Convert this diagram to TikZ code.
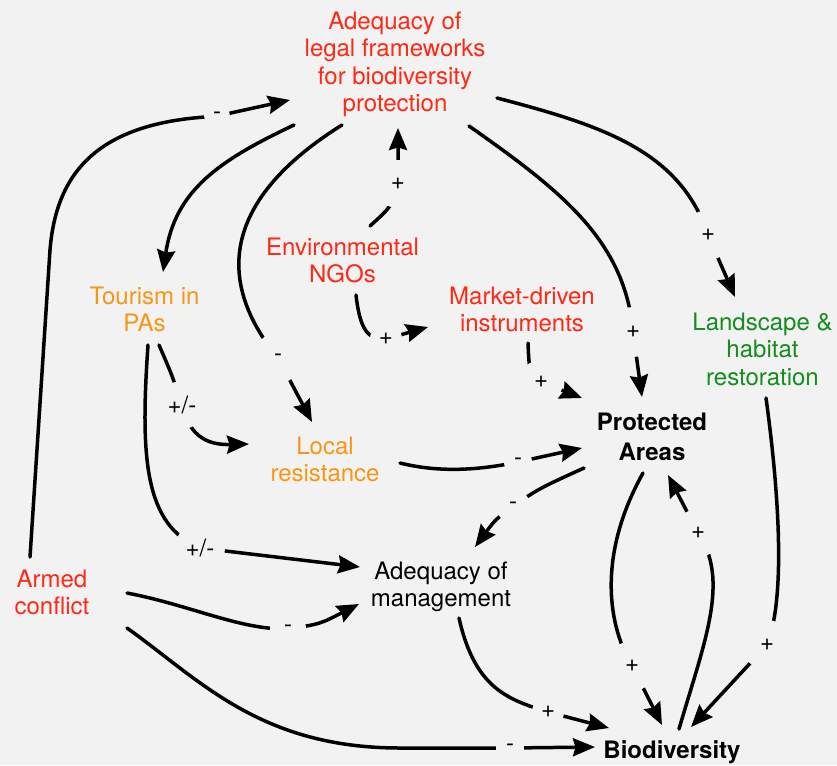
\documentclass[tikz,border=0pt]{standalone}
\usepackage{fontspec}
\setmainfont{TeX Gyre Heros}
\usetikzlibrary{arrows.meta,calc}
\definecolor{bg}{RGB}{242,242,242}
\definecolor{cred}{RGB}{255,40,20}
\definecolor{corange}{RGB}{248,150,20}
\definecolor{cgreen}{RGB}{20,140,30}
\newcommand\mystrut{\rule{0pt}{18pt}}
\begin{document}
\begin{tikzpicture}[x=1pt,y=-1pt,
  lab/.style={anchor=north, inner sep=0pt, align=center, font=\fontsize{24}{27.5}\selectfont},
  boldlab/.style={lab, font=\fontsize{24}{30}\selectfont\bfseries},
  conn/.style={line width=3.5pt, line cap=round, -{Stealth[length=22pt,width=18pt,inset=2.5pt]}},
  sgn/.style={circle, fill=bg, inner sep=0pt, minimum size=#1, text=black, font=\fontsize{24}{24}\selectfont},
]
\fill[bg] (0,0) rectangle (837,765);
\useasboundingbox (0,0) rectangle (837,765);

% nodes
\node[lab, text=cred] (legal) at (395,11) {\mystrut Adequacy of\\legal frameworks\\for biodiversity\\protection};
\node[lab, text=cred] (ngos) at (342.5,237) {\mystrut Environmental\\NGOs};
\node[lab, text=cred] (market) at (522,286) {\mystrut Market-driven\\instruments};
\node[lab, text=corange] (tourism) at (144.5,286) {\mystrut Tourism in\\PAs};
\node[lab, text=cgreen] (landscape) at (762.5,312) {\mystrut Landscape \&\\habitat\\restoration};
\node[lab, text=corange] (local) at (325,436) {\mystrut Local\\resistance};
\node[boldlab] (pa) at (652,412) {\mystrut Protected\\Areas};
\node[lab] (mgmt) at (441,561) {\mystrut Adequacy of\\management};
\node[lab, text=cred] (armed) at (52,569) {\mystrut Armed\\conflict};
\node[boldlab] (biodiv) at (672,740) {\mystrut Biodiversity};

% connectors
\draw[conn] ($(armed.north)+(-22,-12)$) -- (50,250) .. controls (56,175) and (95,125) .. (205,117) -- (217,116) node[sgn=26pt]{-} -- ($(legal.north)+(-105,89)$);
\draw[conn] ($(legal.north)+(-101,114)$) .. controls (220,160) and (175,190) .. ($(tourism.north)+(18.5,-14)$);
\draw[conn] ($(legal.north)+(-53,114)$) .. controls (230,195) and (210,275) .. (278,358) node[sgn=50pt]{-} -- ($(local.north)+(-13,-14)$);
\draw[conn] ($(ngos.north)+(27.5,-11)$) .. controls (392,206) .. (398,184) node[sgn=48pt]{+} -- ($(legal.north)+(3,117)$);
\draw[conn] ($(legal.north)+(102,87)$) .. controls (600,125) and (680,150) .. (708,235) node[sgn=50pt]{+} -- ($(landscape.north)+(-27.5,-15)$);
\draw[conn] ($(legal.north)+(74,115)$) .. controls (560,190) and (625,240) .. (633,332) node[sgn=50pt]{+} -- ($(pa.north)+(-10,-15)$);
\draw[conn] ($(ngos.north)+(13.5,58)$) .. controls (360,330) and (368,340) .. (386,339) node[sgn=32pt]{+} -- ($(market.north)+(-94,41)$);
\draw[conn] ($(tourism.north)+(14.5,59)$) .. controls (172,375) .. (182,405) node[sgn=48pt]{+/-} .. controls (190,440) and (212,445) .. ($(local.north)+(-76,8)$);
\draw[conn] ($(tourism.north)+(3.5,59)$) .. controls (140,460) and (145,525) .. (200,548) node[sgn=50pt]{+/-} -- ($(mgmt.north)+(-81,6)$);
\draw[conn] ($(local.north)+(75,27)$) .. controls (440,473) and (480,470) .. (518,462) node[sgn=28pt]{-} -- ($(pa.north)+(-70,36)$);
\draw[conn] ($(market.north)+(6,57)$) .. controls (529,370) and (530,378) .. (541,382) node[sgn=44pt]{+} -- ($(pa.north)+(-70,-14)$);
\draw[conn] ($(pa.north)+(-68,56)$) .. controls (540,488) .. (513,506) node[sgn=34pt]{-} .. controls (495,520) .. ($(mgmt.north)+(34,-14)$);
\draw[conn] ($(armed.north)+(75,24)$) .. controls (190,605) and (240,630) .. (288,629) node[sgn=36pt]{-} .. controls (320,624) .. ($(mgmt.north)+(-82,43)$);
\draw[conn] ($(armed.north)+(75,59)$) .. controls (200,680) and (260,748) .. (400,748) -- (510,748) node[sgn=28pt]{-} -- ($(biodiv.north)+(-77,7)$);
\draw[conn] ($(mgmt.north)+(18,57)$) .. controls (475,690) and (510,700) .. (548,712) node[sgn=32pt]{+} -- ($(biodiv.north)+(-63,-12)$);
\draw[conn] ($(pa.north)+(-9,61)$) .. controls (600,550) and (605,620) .. (632,666) node[sgn=50pt]{+} -- ($(biodiv.north)+(-10,-15)$);
\draw[conn] ($(biodiv.north)+(7,-11)$) .. controls (705,640) and (730,580) .. (698,533) node[sgn=48pt]{+} -- ($(pa.north)+(16,63)$);
\draw[conn] ($(landscape.north)+(3.5,86)$) .. controls (780,500) and (785,600) .. (767,645) node[sgn=50pt]{+} -- ($(biodiv.north)+(19,-13)$);
\end{tikzpicture}
\end{document}
